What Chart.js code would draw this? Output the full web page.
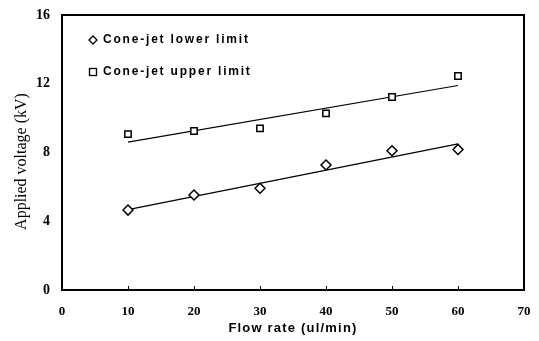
<!DOCTYPE html>
<html><head><meta charset="utf-8">
<script src="https://cdn.jsdelivr.net/npm/chart.js@4/dist/chart.umd.min.js"></script>
<style>html,body{margin:0;padding:0;background:#fff}#wrap{width:539px;height:341px}</style>
</head><body><div id="wrap"><canvas id="c" width="539" height="341"></canvas></div>
<script>
const flowRates = [10, 20, 30, 40, 50, 60];
const lowerLimit = [4.65, 5.53, 5.92, 7.27, 8.1, 8.18];
const upperLimit = [9.07, 9.25, 9.4, 10.28, 11.23, 12.45];
const trendX = [10, 60];
const lowerTrend = [4.68, 8.5];
const upperTrend = [8.6, 11.9];
const seriesNames = ['Cone-jet lower limit', 'Cone-jet upper limit'];
const xTicks = [0, 10, 20, 30, 40, 50, 60, 70];
const yTicks = [0, 4, 8, 12, 16];

const pts = (xs, ys) => xs.map((x, i) => ({x, y: ys[i]}));

function wrapTitle(s, spacing, dy) {
  if (s._wrapped) return;
  const orig = s.drawTitle.bind(s);
  s.drawTitle = function () {
    const ctx = this.ctx;
    ctx.save();
    if ('letterSpacing' in ctx) ctx.letterSpacing = spacing;
    ctx.translate(0, dy);
    orig();
    ctx.restore();
  };
  s._wrapped = true;
}

const boxPlugin = {
  id: 'box',
  afterDraw(chart) {
    const {ctx, chartArea: a, scales} = chart;
    ctx.save();
    ctx.strokeStyle = '#000';
    ctx.lineWidth = 2;
    ctx.strokeRect(a.left, a.top, a.right - a.left, a.bottom - a.top);
    ctx.lineWidth = 1;
    xTicks.forEach(v => {
      const px = Math.round(scales.x.getPixelForValue(v)) + 0.5;
      ctx.beginPath(); ctx.moveTo(px, a.bottom); ctx.lineTo(px, a.bottom - 4); ctx.stroke();
    });
    // legend
    ctx.font = 'bold 12px "Liberation Sans"';
    if ('letterSpacing' in ctx) ctx.letterSpacing = '1.8px';
    ctx.fillStyle = '#000';
    ctx.textBaseline = 'middle';
    ctx.textAlign = 'left';
    const lx = a.left + 31, rows = [a.top + 25, a.top + 57];
    ctx.lineWidth = 1.3;
    ctx.beginPath();
    ctx.moveTo(lx, rows[0] - 4); ctx.lineTo(lx + 4, rows[0]); ctx.lineTo(lx, rows[0] + 4); ctx.lineTo(lx - 4, rows[0]); ctx.closePath();
    ctx.stroke();
    ctx.strokeRect(lx - 3.5, rows[1] - 3.5, 7, 7);
    ctx.fillText(seriesNames[0], lx + 10, rows[0]);
    ctx.fillText(seriesNames[1], lx + 10, rows[1]);
    ctx.restore();
  }
};

new Chart(document.getElementById('c'), {
  type: 'scatter',
  data: {
    datasets: [
      {label: seriesNames[0], data: pts(flowRates, lowerLimit), pointStyle: 'rectRot', pointRadius: 5, borderColor: '#000', backgroundColor: '#fff', borderWidth: 1.5, showLine: false},
      {label: seriesNames[1], data: pts(flowRates, upperLimit), pointStyle: 'rect', pointRadius: 4.5, borderColor: '#000', backgroundColor: '#fff', borderWidth: 1.5, showLine: false},
      {label: 'Linear (lower)', data: pts(trendX, lowerTrend), showLine: true, pointRadius: 0, borderColor: '#000', borderWidth: 1.2, fill: false},
      {label: 'Linear (upper)', data: pts(trendX, upperTrend), showLine: true, pointRadius: 0, borderColor: '#000', borderWidth: 1.2, fill: false}
    ]
  },
  options: {
    responsive: false,
    animation: false,
    layout: {padding: {top: 15, right: 15, left: 0, bottom: 0}},
    plugins: {legend: {display: false}, tooltip: {enabled: false}},
    scales: {
      x: {
        type: 'linear', min: 0, max: 70,
        afterBuildTicks(s) { s.ticks = xTicks.map(v => ({value: v})); },
        afterFit(s) { s.height = 51; s.paddingLeft = 0; s.paddingRight = 0; wrapTitle(s, '1.2px', 0); },
        grid: {display: false, drawTicks: false},
        border: {display: false},
        ticks: {padding: 14, color: '#000', font: {family: '"Liberation Serif"', weight: 'bold', size: 13}},
        title: {display: true, text: 'Flow rate (ul/min)', color: '#000', font: {family: '"Liberation Sans"', weight: 'bold', size: 13}, padding: {top: 2, bottom: 5}}
      },
      y: {
        min: 0, max: 16,
        afterBuildTicks(s) { s.ticks = yTicks.map(v => ({value: v})); },
        afterFit(s) { s.width = 62; s.paddingTop = 0; s.paddingBottom = 0; wrapTitle(s, '0px', 9); },
        grid: {display: false, drawTicks: false},
        border: {display: false},
        ticks: {padding: 12, color: '#000', font: {family: '"Liberation Serif"', weight: 'bold', size: 14}},
        title: {display: true, text: 'Applied voltage (kV)', color: '#000', font: {family: '"Liberation Serif"', size: 16}, padding: {top: 12, bottom: 0}}
      }
    }
  },
  plugins: [boxPlugin]
});
</script>
</body></html>
